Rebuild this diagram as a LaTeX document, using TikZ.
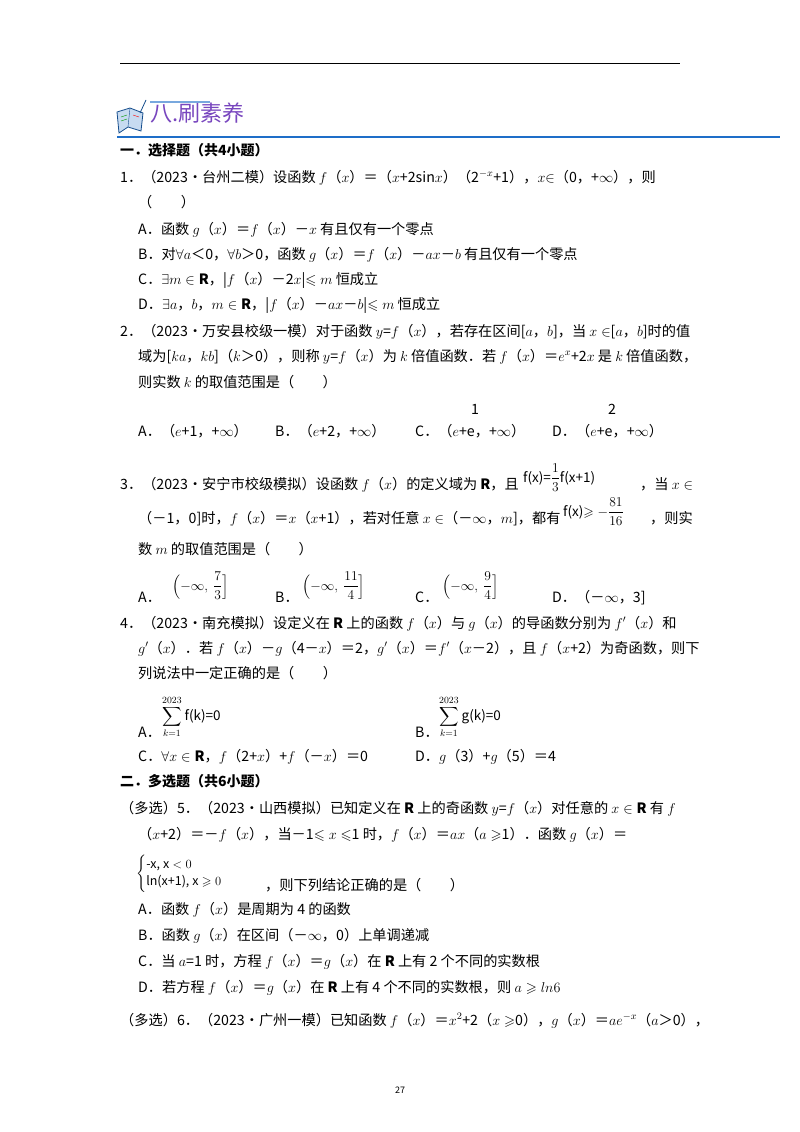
\RequirePackage{fix-cm}
\documentclass[tikz,border=0pt]{standalone}
\usepackage{amsmath,amssymb}
\usepackage{fontspec}
\setmainfont{Noto Sans CJK SC}
\definecolor{hb}{RGB}{30,110,200}
\definecolor{hp}{RGB}{120,70,190}
\begin{document}
\begin{tikzpicture}[x=1pt,y=-1pt,
  t/.style={anchor=base west,inner sep=0pt,font=\fontsize{14.2}{16}\selectfont},
  s/.style={anchor=base west,inner sep=0pt,font=\fontsize{13.5}{15}\selectfont}]
\useasboundingbox (0,0) rectangle (800,1132);
\coordinate (r1) at (120,64); \coordinate (r2) at (680,64);
\draw[line width=1pt] (r1) -- (r2);
\coordinate (b1) at (117,137); \coordinate (b2) at (780,137);
\draw[hb,line width=1.2pt] (b1) -- (b2);
% icon
\draw[hb!70!black,fill=hb!25,line width=0.8pt] (117,112) -- (130,108) -- (143,113) -- (141,131) -- (128,127) -- (119,133) -- cycle;
\draw[hb!70!black] (130,108) -- (128,127);
\draw[green!60!black] (121,117)--(127,115) (121,121)--(127,119);
\draw[red] (133,115)--(139,117);
\draw[hb!70!black,line width=0.8pt] (140,113) -- (146,100);
\draw[hb!60,line width=1.2pt] (150,102) -- (210,102);
\node[anchor=base west,inner sep=0,text=hp,font=\fontsize{22}{24}\selectfont] (h) at (150,121) {八.刷素养};
\node[t,font=\fontsize{14}{16}\selectfont\bfseries] (s1) at (120,155) {一．选择题（共4小题）};
% Q1
\node[t] (q1) at (120,182) {1．（2023•台州二模）设函数 $f$（$x$）＝（$x$+2sin$x$）（2$^{-x}$+1），$x$$\in$（0，+$\infty$），则};
\node[t] (q1b) at (138,207) {（　　）};
\node[t] (q1A) at (138,234) {A．函数 $g$（$x$）＝$f$（$x$）－$x$ 有且仅有一个零点};
\node[t] (q1B) at (138,259) {B．对$\forall a$＜0，$\forall b$＞0，函数 $g$（$x$）＝$f$（$x$）－$ax$－$b$ 有且仅有一个零点};
\node[t] (q1C) at (138,284) {C．$\exists m\in\mathbf R$，|$f$（$x$）－2$x$|$\leqslant m$ 恒成立};
\node[t] (q1D) at (138,309) {D．$\exists a$，$b$，$m\in\mathbf R$，|$f$（$x$）－$ax$－$b$|$\leqslant m$ 恒成立};
% Q2
\node[t] (q2) at (120,336) {2．（2023•万安县校级一模）对于函数 $y$=$f$（$x$），若存在区间[$a$，$b$]，当 $x\in$[$a$，$b$]时的值};
\node[t] (q2b) at (138,361) {域为[$ka$，$kb$]（$k$＞0），则称 $y$=$f$（$x$）为 $k$ 倍值函数．若 $f$（$x$）＝$e^x$+2$x$ 是 $k$ 倍值函数，};
\node[t] (q2c) at (138,387) {则实数 $k$ 的取值范围是（　　）};
\node[t] (q2A) at (138,436) {A．（$e$+1，+$\infty$）};
\node[t] (q2B) at (275,436) {B．（$e$+2，+$\infty$）};
\node[t] (q2C) at (415,436) {C．（$e$+e，+$\infty$）};
\node[t] (q2Cn) at (471,414) {1};
\node[t] (q2D) at (552,436) {D．（$e$+e，+$\infty$）};
\node[t] (q2Dn) at (608,414) {2};
% Q3
\node[t] (q3) at (120,489) {3．（2023•安宁市校级模拟）设函数 $f$（$x$）的定义域为 $\mathbf R$，且};
\node[s] (q3f) at (523,482) {f(x)=$\dfrac{1}{3}$f(x+1)};
\node[t] (q3e) at (640,489) {，当 $x\in$};
\node[t] (q3b) at (138,523) {（－1，0]时，$f$（$x$）＝$x$（$x$+1），若对任意 $x\in$（－$\infty$，$m$]，都有};
\node[s] (q3g) at (563,516) {f(x)$\geqslant-\dfrac{81}{16}$};
\node[t] (q3h) at (650,523) {，则实};
\node[t] (q3c) at (138,554) {数 $m$ 的取值范围是（　　）};
\node[t] (q3A) at (138,602) {A．};
\node[s] (q3Af) at (172,590) {$\Bigl(-\infty,\ \dfrac{7}{3}\Bigr]$};
\node[t] (q3B) at (275,602) {B．};
\node[s] (q3Bf) at (302,590) {$\Bigl(-\infty,\ \dfrac{11}{4}\Bigr]$};
\node[t] (q3C) at (415,602) {C．};
\node[s] (q3Cf) at (442,590) {$\Bigl(-\infty,\ \dfrac{9}{4}\Bigr]$};
\node[t] (q3D) at (552,602) {D．（－$\infty$，3]};
% Q4
\node[t] (q4) at (120,628) {4．（2023•南充模拟）设定义在 $\mathbf R$ 上的函数 $f$（$x$）与 $g$（$x$）的导函数分别为 $f'$（$x$）和};
\node[t] (q4b) at (138,653) {$g'$（$x$）．若 $f$（$x$）－$g$（4－$x$）＝2，$g'$（$x$）＝$f'$（$x$－2），且 $f$（$x$+2）为奇函数，则下};
\node[t] (q4c) at (138,678) {列说法中一定正确的是（　　）};
\node[t] (q4A) at (138,737) {A．};
\node[s] (q4Af) at (162,720) {$\displaystyle\sum_{k=1}^{2023}$ f(k)=0};
\node[t] (q4B) at (415,737) {B．};
\node[s] (q4Bf) at (439,720) {$\displaystyle\sum_{k=1}^{2023}$ g(k)=0};
\node[t] (q4C) at (138,761) {C．$\forall x\in\mathbf R$，$f$（2+$x$）+$f$（－$x$）＝0};
\node[t] (q4D) at (415,761) {D．$g$（3）+$g$（5）＝4};
% Section 2
\node[t,font=\fontsize{14}{16}\selectfont\bfseries] (s2) at (120,786) {二．多选题（共6小题）};
\node[t] (q5) at (120,813) {（多选）5．（2023•山西模拟）已知定义在 $\mathbf R$ 上的奇函数 $y$=$f$（$x$）对任意的 $x\in\mathbf R$ 有 $f$};
\node[t] (q5b) at (138,839) {（$x$+2）＝－$f$（$x$），当－1$\leqslant x\leqslant$1 时，$f$（$x$）＝$ax$（$a\geqslant$1）．函数 $g$（$x$）＝};
\node[s,anchor=west,font=\fontsize{12.5}{14}\selectfont] (q5f) at (136,874) {$\begin{cases}\text{-x, x}<0\\ \text{ln(x+1), x}\geqslant 0\end{cases}$};
\node[t] (q5c) at (265,890) {，则下列结论正确的是（　　）};
\node[t] (q5A) at (138,914) {A．函数 $f$（$x$）是周期为 4 的函数};
\node[t] (q5B) at (138,940) {B．函数 $g$（$x$）在区间（－$\infty$，0）上单调递减};
\node[t] (q5C) at (138,966) {C．当 $a$=1 时，方程 $f$（$x$）＝$g$（$x$）在 $\mathbf R$ 上有 2 个不同的实数根};
\node[t] (q5D) at (138,992) {D．若方程 $f$（$x$）＝$g$（$x$）在 $\mathbf R$ 上有 4 个不同的实数根，则 $a\geqslant ln6$};
\node[t] (q6) at (120,1025) {（多选）6．（2023•广州一模）已知函数 $f$（$x$）＝$x^2$+2（$x\geqslant$0），$g$（$x$）＝$ae^{-x}$（$a$＞0），};
\node[anchor=base,inner sep=0,font=\fontsize{9}{10}\selectfont] (pg) at (400,1093) {27};
\end{tikzpicture}
\end{document}
